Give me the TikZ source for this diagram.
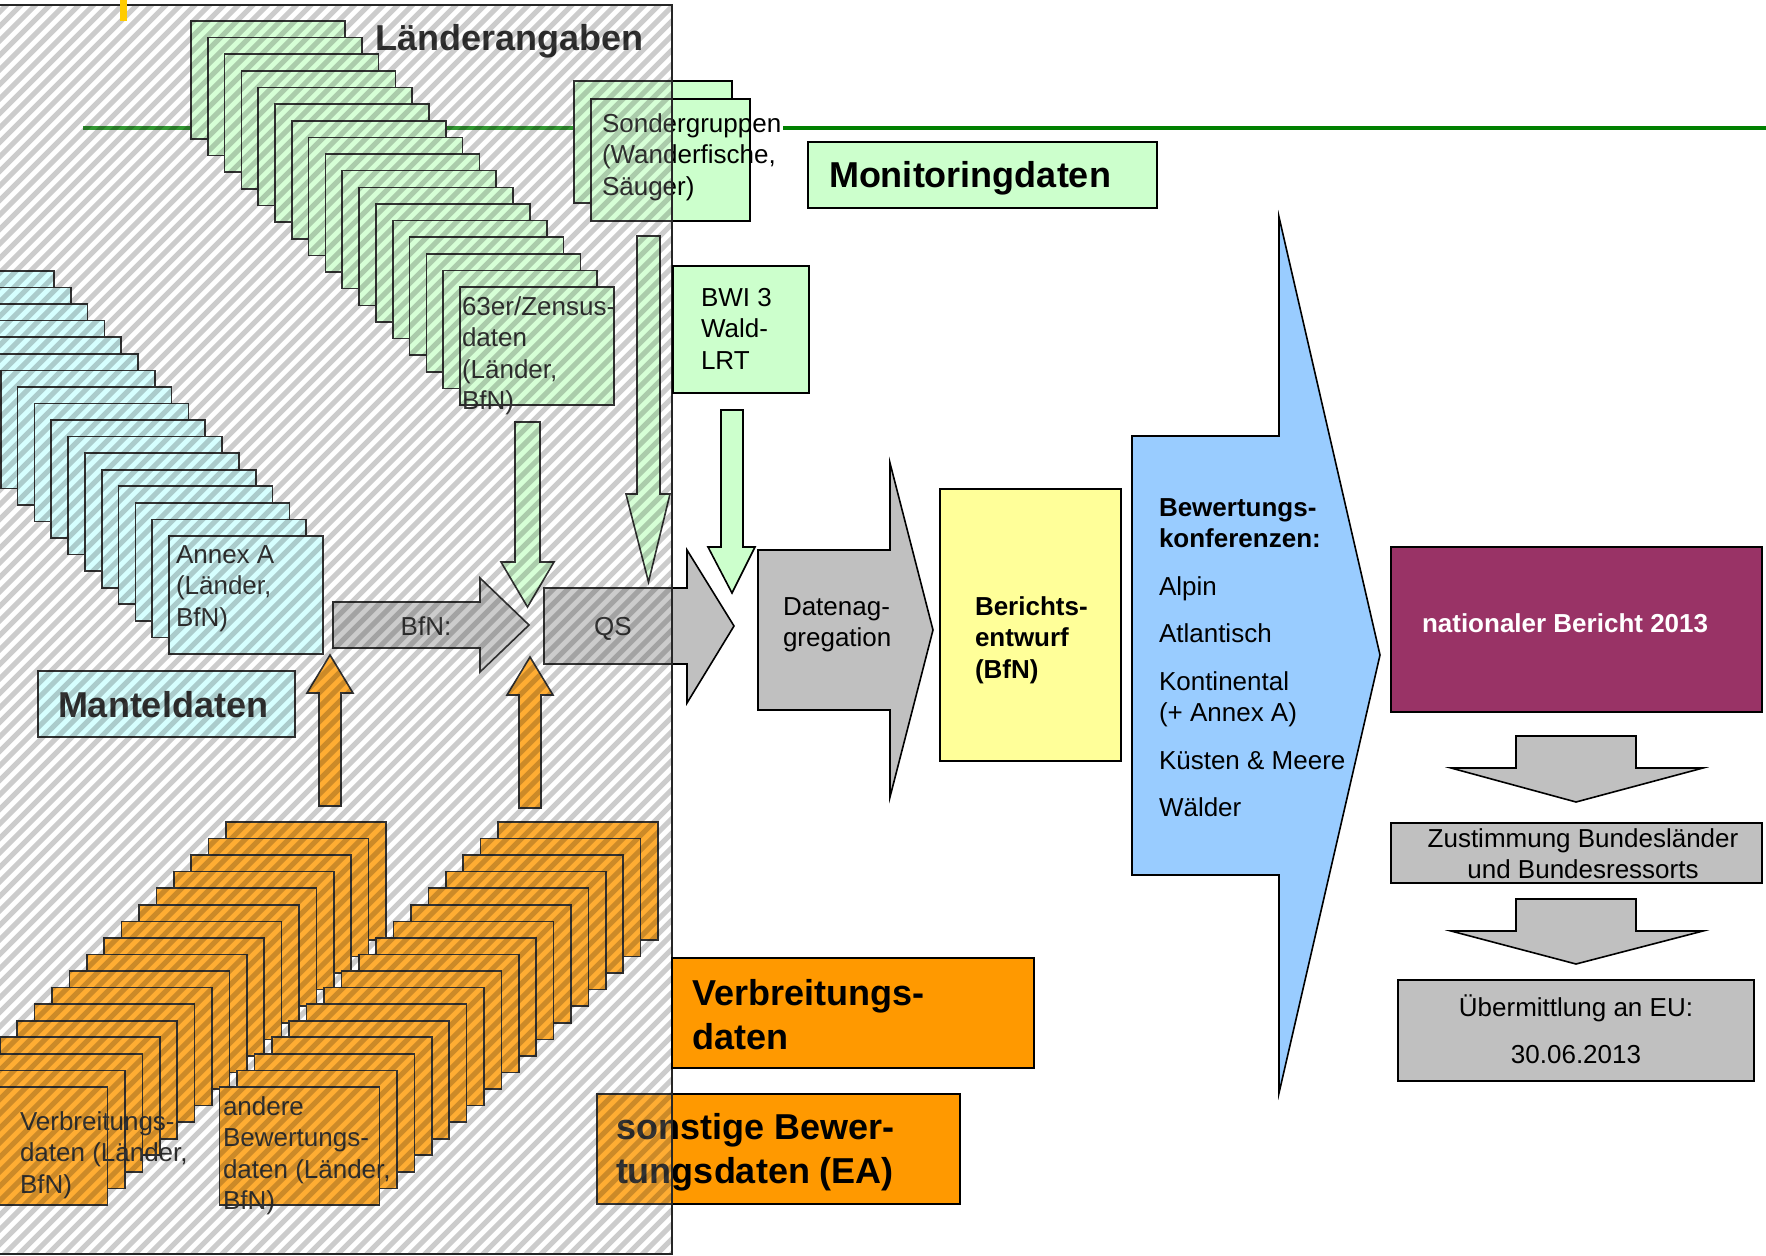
\documentclass[tikz,border=0pt]{standalone}
\usepackage{fontspec}
\setmainfont{Liberation Sans}
\newcommand{\mlL}[1]{\begin{tabular}[t]{@{}l@{}}#1\end{tabular}}
\newcommand{\mlC}[1]{\begin{tabular}[t]{@{}c@{}}#1\end{tabular}}
\definecolor{lgreen}{HTML}{CCFFCC}
\definecolor{lcyan}{HTML}{CCFFFF}
\definecolor{orng}{HTML}{FF9900}
\definecolor{gry}{HTML}{C0C0C0}
\definecolor{lblue}{HTML}{99CCFF}
\definecolor{lyell}{HTML}{FFFF99}
\definecolor{plum}{HTML}{993366}
\definecolor{lgn}{HTML}{008000}
\definecolor{goldy}{HTML}{FFCC00}
\begin{document}
\begin{tikzpicture}[x=1pt,y=-1pt,
  lnst/.style={draw=black, line width=1.6pt},
  txt/.style={inner sep=0pt, outer sep=0pt, anchor=base west, font=\fontsize{26}{31.5}\selectfont},
  txtb/.style={txt, font=\fontsize{26}{31.5}\selectfont\bfseries},
  txtc/.style={txt, anchor=base},
  bigt/.style={inner sep=0pt, outer sep=0pt, anchor=base west, font=\fontsize{36}{44}\selectfont\bfseries},
  bxst/.style={lnst, inner sep=0pt, outer sep=0pt, anchor=north west},
]
\useasboundingbox (0,0) rectangle (1766,1255);
\fill[white] (0,0) rectangle (1766,1255);

% green line
\draw[lgn, line width=3.5pt] (83,128) -- (600,128);
\draw[lgn, line width=3.5pt] (783,128) -- (1766,128);

% stacks
\foreach \i in {0,...,16} {
  \draw[lnst, fill=lgreen] ({191+16.81*\i},{21+16.63*\i}) rectangle ++(154,118);
}
\foreach \i in {0,...,16} {
  \draw[lnst, fill=lcyan] ({-100+16.81*\i},{271+16.56*\i}) rectangle ++(154,118);
}
\foreach \i in {0,...,16} {
  \draw[lnst, fill=orng] ({226-17.4*\i},{822+16.56*\i}) rectangle ++(160,118);
}
\foreach \i in {0,...,16} {
  \draw[lnst, fill=orng] ({498-17.4*\i},{822+16.56*\i}) rectangle ++(160,118);
}
\node[txt] (zensus) at (462,315) {\mlL{63er/Zensus-\\daten\\(Länder,\\BfN)}};
\node[txt] (annex) at (176,563) {\mlL{Annex A\\(Länder,\\BfN)}};
\node[txt] (verbl) at (20,1130) {\mlL{Verbreitungs-\\daten (Länder,\\BfN)}};
\node[txt] (andere) at (223,1115) {\mlL{andere\\Bewertungs-\\daten (Länder,\\BfN)}};

% arrows inside hatched area
\draw[lnst, fill=lgreen] (515,422) -- (540,422) -- (540,562) -- (554,562) -- (527.5,607) -- (501,562) -- (515,562) -- cycle;
\draw[lnst, fill=lgreen] (637,236) -- (660,236) -- (660,494) -- (670,494) -- (648.5,582) -- (626,494) -- (637,494) -- cycle;
\draw[lnst, fill=orng] (319,806) -- (319,693) -- (307,693) -- (330,655) -- (353,693) -- (341,693) -- (341,806) -- cycle;
\draw[lnst, fill=orng] (519,808) -- (519,695) -- (507,695) -- (530,657) -- (553,695) -- (541,695) -- (541,808) -- cycle;
\draw[lnst, fill=gry] (333,602) -- (480,602) -- (480,578) -- (529,625) -- (480,672) -- (480,648) -- (333,648) -- cycle;
\draw[lnst, fill=gry] (544,588) -- (687,588) -- (687,550) -- (734,626) -- (687,703) -- (687,664) -- (544,664) -- cycle;
\node[txtc] (bfn) at (426,635) {BfN:};
\node[txtc] (qs) at (613,635) {QS};

% boxes crossing / inside hatch
\node[bxst, fill=lcyan, minimum width=257pt, minimum height=66pt] (mbox) at (38,671) {};
\node[bigt] (mantel) at (58,717) {Manteldaten};
\node[bxst, fill=lgreen, minimum width=158pt, minimum height=122pt] (sbox1) at (574,81) {};
\node[bxst, fill=lgreen, minimum width=159pt, minimum height=122pt] (sbox2) at (591,99) {};
\node[txt] (sonder) at (602,132) {\mlL{Sondergruppen\\(Wanderfische,\\Säuger)}};
\node[bxst, fill=orng, minimum width=363pt, minimum height=110pt] (sbox) at (597,1094) {};
\node[bigt] (sonst) at (616,1139) {\mlL{sonstige Bewer-\\tungsdaten (EA)}};
\node[bigt] (laender) at (375,51) {Länderangaben};

% hatch overlay
\begin{scope}
  \clip (0,5) rectangle (672,1254);
  \fill[white, opacity=0.2] (0,5) rectangle (672,1254);
  \foreach \k in {0,...,136} {
    \draw[line width=5.2pt, black, opacity=0.2] ({-1265+14.5*\k},1262) -- ++(1262,-1262);
  }
\end{scope}
\draw[line width=1.6pt, black!85] (-2,5) rectangle (672,1254);

% right part
\node[bxst, fill=lgreen, minimum width=349pt, minimum height=66pt] (mon) at (808,142) {};
\node[bigt] (monit) at (829,187) {Monitoringdaten};
\node[bxst, fill=lgreen, minimum width=136pt, minimum height=127pt] (bwibox) at (673,266) {};
\node[txt] (bwi) at (701,306) {\mlL{BWI 3\\Wald-\\LRT}};
\draw[lnst, fill=lgreen] (721,410) -- (743,410) -- (743,547) -- (755,547) -- (732,593) -- (708,547) -- (721,547) -- cycle;
\draw[lnst, fill=gry] (758,550) -- (890,550) -- (890,463) -- (933,630) -- (890,797) -- (890,710) -- (758,710) -- cycle;
\node[txt] (aggr) at (783,615) {\mlL{Datenag-\\gregation}};
\node[bxst, fill=lyell, minimum width=181pt, minimum height=272pt] (berbox) at (940,489) {};
\node[txtb] (ber) at (975,615) {\mlL{Berichts-\\entwurf\\(BfN)}};
\draw[lnst, fill=lblue] (1132,436) -- (1279,436) -- (1279,217) -- (1380,655) -- (1279,1093) -- (1279,875) -- (1132,875) -- cycle;
\node[txt] (bew) at (1159,516) {\mlL{\textbf{Bewertungs-}\\\textbf{konferenzen:}\\[16pt]Alpin\\[16pt]Atlantisch\\[16pt]Kontinental\\(+ Annex A)\\[16pt]Küsten \& Meere\\[16pt]Wälder}};
\node[bxst, fill=plum, minimum width=371pt, minimum height=165pt] (natbox) at (1391,547) {};
\node[txtb, text=white] (nat) at (1422,632) {nationaler Bericht 2013};
\draw[lnst, fill=gry] (1516,736) -- (1636,736) -- (1636,768) -- (1703,768) -- (1576,802) -- (1451,768) -- (1516,768) -- cycle;
\node[bxst, fill=gry, minimum width=371pt, minimum height=60pt] (zustbox) at (1391,823) {};
\node[txtc] (zust) at (1583,847) {\mlC{Zustimmung Bundesländer\\und Bundesressorts}};
\draw[lnst, fill=gry] (1516,899) -- (1636,899) -- (1636,931) -- (1703,931) -- (1576,964) -- (1451,931) -- (1516,931) -- cycle;
\node[bxst, fill=gry, minimum width=356pt, minimum height=101pt] (uebbox) at (1398,980) {};
\node[txtc] (ueber) at (1576,1016) {\mlC{Übermittlung an EU:\\[15.5pt]30.06.2013}};
\node[bxst, fill=orng, minimum width=362pt, minimum height=110pt] (vbox) at (672,958) {};
\node[bigt] (verb) at (692,1005) {\mlL{Verbreitungs-\\daten}};

\fill[goldy] (120,0) rectangle (127,21);
\end{tikzpicture}
\end{document}
